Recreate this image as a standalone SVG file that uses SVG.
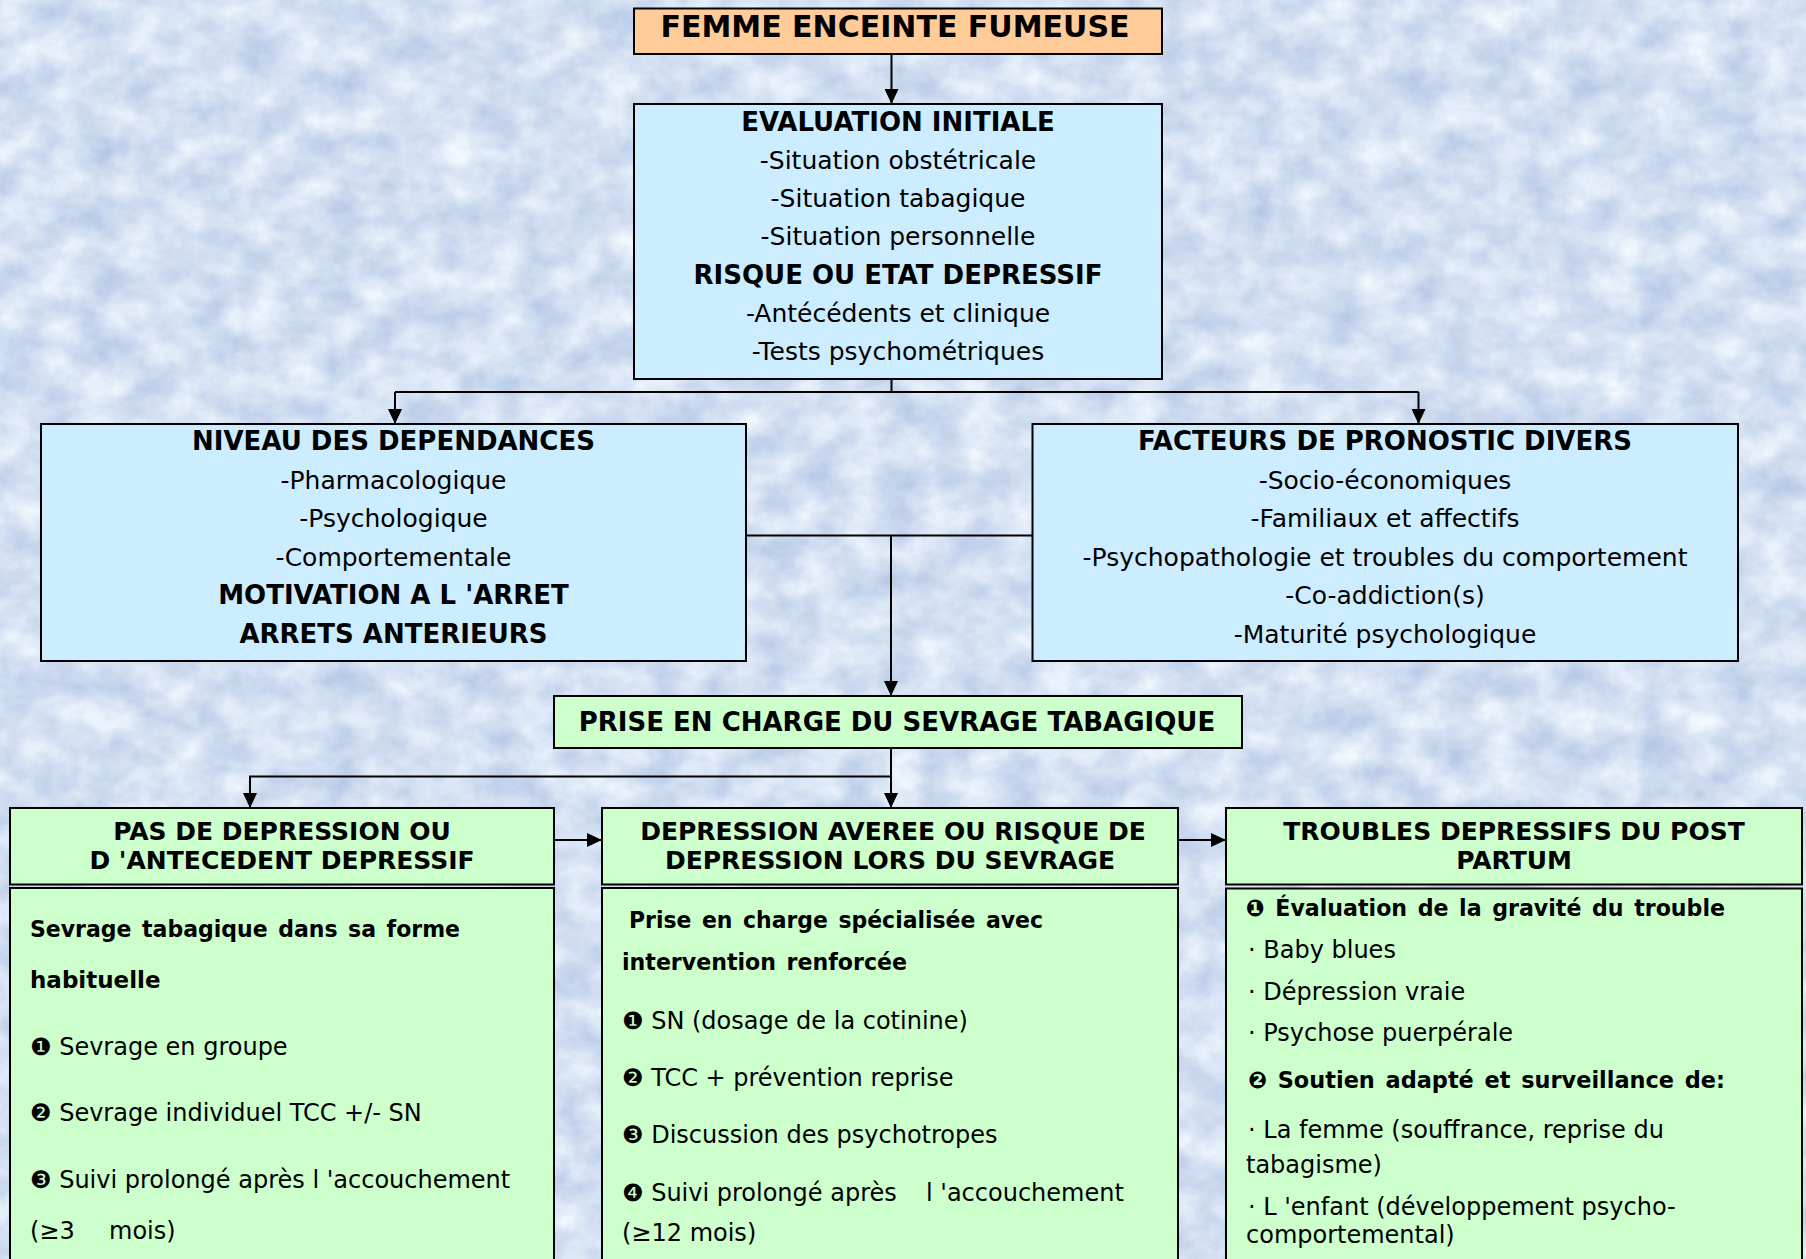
<svg xmlns="http://www.w3.org/2000/svg" width="1806" height="1259" viewBox="0 0 1806 1259">
<defs>
<style>
text{font-family:"DejaVu Sans","Liberation Sans",sans-serif;fill:#000}
.ti{font-weight:bold;font-size:30px;text-anchor:middle}
.h{font-weight:bold;font-size:26px;text-anchor:middle}
.n{font-size:25px;text-anchor:middle}
.hh{font-weight:bold;font-size:25px;text-anchor:middle}
.l{font-size:24px}
.lb{font-size:23px;font-weight:bold;word-spacing:3px}
.box{stroke:#000;stroke-width:2}
.blue{fill:#CCECFF}
.green{fill:#CCFFCC}
.peach{fill:#FFCC99}
.wire{fill:none;stroke:#000;stroke-width:2}
</style>
<marker id="ah" markerUnits="userSpaceOnUse" markerWidth="15" markerHeight="14" refX="15" refY="7" orient="auto">
<path d="M0,0L15,7L0,14z" fill="#000"/>
</marker>
<filter id="tex" filterUnits="userSpaceOnUse" x="0" y="0" width="1806" height="1259" color-interpolation-filters="sRGB">
<feTurbulence type="fractalNoise" baseFrequency="0.025 0.03" numOctaves="5" seed="11"/>
<feColorMatrix type="matrix" values="0.3 0 0 0 0.68  0.24 0 0 0 0.76  0.12 0 0 0 0.89  0 0 0 0 1"/>
</filter>
</defs>
<rect id="background" x="0" y="0" width="1806" height="1259" fill="#D4E0F2" filter="url(#tex)"/>

<g id="connectors">
<line class="wire" x1="891.5" y1="54" x2="891.5" y2="104" marker-end="url(#ah)"/>
<polyline class="wire" points="891.5,379 891.5,392"/>
<polyline class="wire" points="395,392 1418.5,392"/>
<line class="wire" x1="395" y1="392" x2="395" y2="424" marker-end="url(#ah)"/>
<line class="wire" x1="1418.5" y1="392" x2="1418.5" y2="424" marker-end="url(#ah)"/>
<line class="wire" x1="746" y1="535.5" x2="1032.5" y2="535.5"/>
<line class="wire" x1="891" y1="535.5" x2="891" y2="696" marker-end="url(#ah)"/>
<line class="wire" x1="891" y1="748" x2="891" y2="808" marker-end="url(#ah)"/>
<polyline class="wire" points="891,776.5 250,776.5 250,790"/>
<line class="wire" x1="250" y1="776.5" x2="250" y2="808" marker-end="url(#ah)"/>
<line class="wire" x1="554" y1="840" x2="602" y2="840" marker-end="url(#ah)"/>
<line class="wire" x1="1178" y1="840" x2="1226" y2="840" marker-end="url(#ah)"/>
</g>

<g id="femme">
<rect class="box peach" x="634" y="8.5" width="528" height="45.5"/>
<text class="ti" x="895" y="37">FEMME ENCEINTE FUMEUSE</text>
</g>

<g id="evaluation">
<rect class="box blue" x="634" y="104" width="528" height="275"/>
<text class="h" x="898" y="131">EVALUATION INITIALE</text>
<text class="n" x="898" y="169">-Situation obstétricale</text>
<text class="n" x="898" y="207">-Situation tabagique</text>
<text class="n" x="898" y="245">-Situation personnelle</text>
<text class="h" x="898" y="284">RISQUE OU ETAT DEPRESSIF</text>
<text class="n" x="898" y="322">-Antécédents et clinique</text>
<text class="n" x="898" y="360">-Tests psychométriques</text>
</g>

<g id="niveau">
<rect class="box blue" x="41" y="424" width="705" height="237"/>
<text class="h" x="393.5" y="450">NIVEAU DES DEPENDANCES</text>
<text class="n" x="393.5" y="488.5">-Pharmacologique</text>
<text class="n" x="393.5" y="527">-Psychologique</text>
<text class="n" x="393.5" y="565.5">-Comportementale</text>
<text class="h" x="393.5" y="604">MOTIVATION A L 'ARRET</text>
<text class="h" x="393.5" y="642.5">ARRETS ANTERIEURS</text>
</g>

<g id="facteurs">
<rect class="box blue" x="1032.5" y="424" width="705.5" height="237"/>
<text class="h" x="1385" y="450">FACTEURS DE PRONOSTIC DIVERS</text>
<text class="n" x="1385" y="488.5">-Socio-économiques</text>
<text class="n" x="1385" y="527">-Familiaux et affectifs</text>
<text class="n" x="1385" y="565.5">-Psychopathologie et troubles du comportement</text>
<text class="n" x="1385" y="604">-Co-addiction(s)</text>
<text class="n" x="1385" y="642.5">-Maturité psychologique</text>
</g>

<g id="prise">
<rect class="box green" x="554" y="696" width="688" height="52"/>
<text class="h" x="897" y="731">PRISE EN CHARGE DU SEVRAGE TABAGIQUE</text>
</g>

<g id="pas-de-depression">
<rect class="box green" x="10" y="808" width="544" height="76.5"/>
<rect class="box green" x="10" y="888" width="544" height="390"/>
<text class="hh" x="282" y="840">PAS DE DEPRESSION OU</text>
<text class="hh" x="282" y="869">D 'ANTECEDENT DEPRESSIF</text>
<text class="lb" x="30" y="937" textLength="430" lengthAdjust="spacingAndGlyphs">Sevrage tabagique dans sa forme</text>
<text class="lb" x="30" y="988">habituelle</text>
<text class="l" x="30" y="1055">❶ Sevrage en groupe</text>
<text class="l" x="30" y="1121">❷ Sevrage individuel TCC +/- SN</text>
<text class="l" x="30" y="1188">❸ Suivi prolongé après l 'accouchement</text>
<text class="l" y="1239"><tspan x="30">(≥3</tspan><tspan x="109">mois)</tspan></text>
</g>

<g id="depression-averee">
<rect class="box green" x="602" y="808" width="576" height="76.5"/>
<rect class="box green" x="602" y="888" width="576" height="390"/>
<text class="hh" x="893" y="840">DEPRESSION AVEREE OU RISQUE DE</text>
<text class="hh" x="890" y="869">DEPRESSION LORS DU SEVRAGE</text>
<text class="lb" x="629" y="928" textLength="414" lengthAdjust="spacingAndGlyphs">Prise en charge spécialisée avec</text>
<text class="lb" x="622" y="970" textLength="285" lengthAdjust="spacingAndGlyphs">intervention renforcée</text>
<text class="l" x="622" y="1029">❶ SN (dosage de la cotinine)</text>
<text class="l" x="622" y="1086">❷ TCC + prévention reprise</text>
<text class="l" x="622" y="1143">❸ Discussion des psychotropes</text>
<text class="l" y="1201"><tspan x="622">❹ Suivi prolongé après</tspan><tspan x="926">l 'accouchement</tspan></text>
<text class="l" x="622" y="1241">(≥12 mois)</text>
</g>

<g id="troubles-post-partum">
<rect class="box green" x="1226" y="808" width="576" height="76.5"/>
<rect class="box green" x="1226" y="888.5" width="576" height="390"/>
<text class="hh" x="1514" y="840">TROUBLES DEPRESSIFS DU POST</text>
<text class="hh" x="1514" y="869">PARTUM</text>
<text class="lb" x="1246" y="916" textLength="479" lengthAdjust="spacingAndGlyphs">❶ Évaluation de la gravité du trouble</text>
<text class="l" x="1248" y="958">· Baby blues</text>
<text class="l" x="1248" y="1000">· Dépression vraie</text>
<text class="l" x="1248" y="1041">· Psychose puerpérale</text>
<text class="lb" x="1248" y="1088" textLength="477" lengthAdjust="spacingAndGlyphs">❷  Soutien adapté et surveillance de:</text>
<text class="l" x="1248" y="1138">· La femme (souffrance, reprise du</text>
<text class="l" x="1246" y="1173">tabagisme)</text>
<text class="l" x="1248" y="1215">· L 'enfant (développement psycho-</text>
<text class="l" x="1246" y="1243">comportemental)</text>
</g>
</svg>
